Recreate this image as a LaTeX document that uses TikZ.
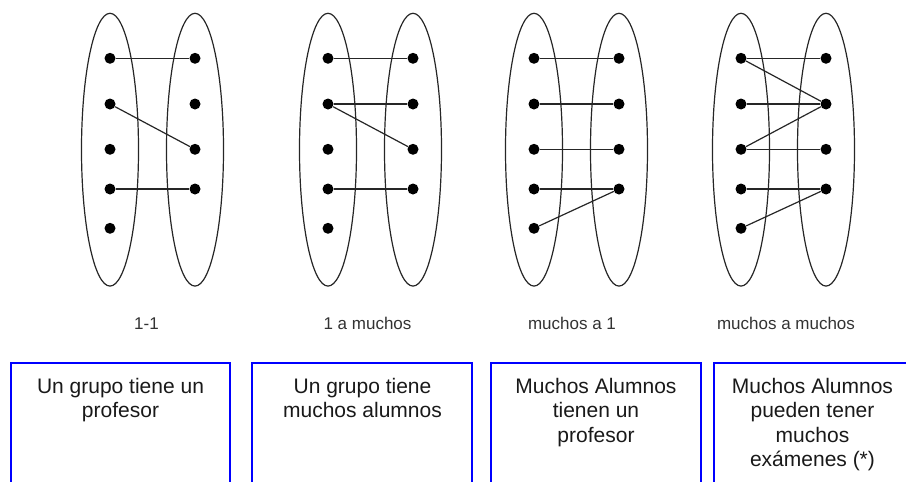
\documentclass[tikz,border=0pt]{standalone}
\usepackage{fontspec}
\setmainfont{Liberation Sans}
\tikzset{
  dotnode/.style={circle,fill=black,inner sep=0pt,minimum size=11pt},
  setell/.style={draw=black!85,line width=1.2pt},
  link/.style={draw=black!85,line width=1.2pt},
  boxline/.style={draw=blue,line width=1.5pt},
  lab/.style={text=black!80,font=\fontsize{17}{20}\selectfont,anchor=base,inner sep=0pt},
  boxtext/.style={text=black!90,font=\fontsize{21}{24.5}\selectfont,align=center,anchor=north,inner sep=0pt}
}
\newcommand\mydiag[3]{%
  \draw[setell] (#2,149.7) ellipse [x radius=28.5pt, y radius=136.4pt];
  \draw[setell] (#3,149.7) ellipse [x radius=28.5pt, y radius=136.4pt];
  \foreach \k/\yy in {1/58.3,2/104,3/149.3,4/189,5/228.3}{\node[dotnode] (#1L\k) at (#2,\yy) {};}
  \foreach \k/\yy in {1/58.3,2/104,3/149.3,4/189}{\node[dotnode] (#1R\k) at (#3,\yy) {};}
}
\begin{document}
\begin{tikzpicture}[x=1pt,y=-1pt]
\useasboundingbox (0,0) rectangle (906,482);
% diagrams
\mydiag{a}{110}{195}
\mydiag{b}{328}{413}
\mydiag{c}{534}{619}
\mydiag{d}{741}{826}
% 1-1
\draw[link] (aL1) -- (aR1);
\draw[link] (aL2) -- (aR3);
\draw[link] (aL4) -- (aR4);
% 1 a muchos
\draw[link] (bL1) -- (bR1);
\draw[link] (bL2) -- (bR2);
\draw[link] (bL2) -- (bR3);
\draw[link] (bL4) -- (bR4);
% muchos a 1
\draw[link] (cL1) -- (cR1);
\draw[link] (cL2) -- (cR2);
\draw[link] (cL3) -- (cR3);
\draw[link] (cL4) -- (cR4);
\draw[link] (cL5) -- (cR4);
% muchos a muchos
\draw[link] (dL1) -- (dR1);
\draw[link] (dL1) -- (dR2);
\draw[link] (dL2) -- (dR2);
\draw[link] (dL3) -- (dR2);
\draw[link] (dL3) -- (dR3);
\draw[link] (dL4) -- (dR4);
\draw[link] (dL5) -- (dR4);
% labels
\node[lab] (l1) at (146.5,329.5) {1-1};
\node[lab] (l2) at (367.5,329.5) {1 a muchos};
\node[lab] (l3) at (572,329.5) {muchos a 1};
\node[lab] (l4) at (786,329.5) {muchos a muchos};
% boxes
\draw[boxline] (11,482) -- (11,363) -- (230,363) -- (230,482);
\draw[boxline] (252,482) -- (252,363) -- (472,363) -- (472,482);
\draw[boxline] (491,482) -- (491,363) -- (701,363) -- (701,482);
\draw[boxline] (714,482) -- (714,363) -- (906,363);
\node[boxtext] (t1) at (120.5,377.7) {Un grupo tiene un\\profesor};
\node[boxtext] (t2) at (362.5,377.7) {Un grupo tiene\\muchos alumnos};
\node[boxtext] (t3) at (596,377.7) {Muchos Alumnos\\tienen un\\profesor};
\node[boxtext] (t4) at (812.5,377.7) {Muchos Alumnos\\pueden tener\\muchos\\exámenes (*)};
\end{tikzpicture}
\end{document}
